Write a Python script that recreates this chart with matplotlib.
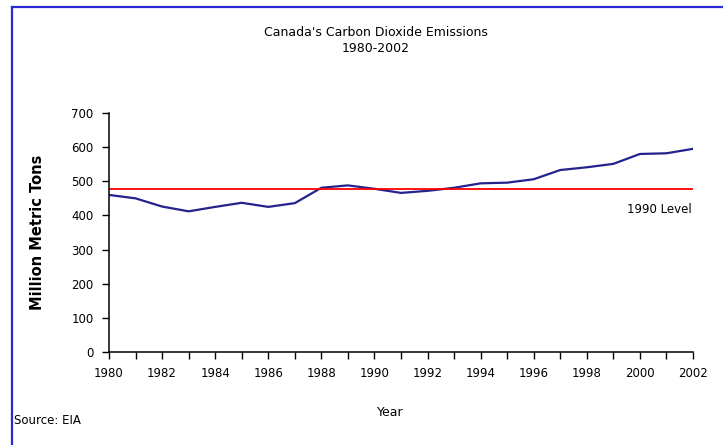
import matplotlib.pyplot as plt
from matplotlib.lines import Line2D

years = list(range(1980, 2003))
emissions = [460, 450, 426, 412, 425, 437, 425, 436, 481, 488, 478, 466,
             472, 481, 494, 496, 506, 533, 541, 551, 580, 582, 595]
level_1990 = 477
x_ticks = list(range(1980, 2003, 2))
y_ticks = list(range(0, 701, 100))

W, H = 723, 445
fig = plt.figure(figsize=(W / 100, H / 100), dpi=100)
fig.patch.set_facecolor('white')

ax = fig.add_axes([109 / W, 1 - 352 / H, (693 - 109) / W, (352 - 113) / H])
ax.plot(years, emissions, color='#23238e', lw=1.6, solid_capstyle='round')
ax.plot([1980, 2002.1], [level_1990, level_1990], color='#ff0000', lw=1.3)

ax.set_xlim(1980, 2002)
ax.set_ylim(0, 700)
ax.set_xticks(years, minor=False)
ax.set_xticklabels([str(y) if y in x_ticks else '' for y in years])
ax.set_yticks(y_ticks)
ax.tick_params(axis='both', direction='out', length=5, width=1, colors='black',
               labelsize=8.5, pad=6)
for s in ['top', 'right']:
    ax.spines[s].set_visible(False)
for s in ['left', 'bottom']:
    ax.spines[s].set_linewidth(1.1)
ax.spines['left'].set_bounds(0, 700)

ax.set_ylabel('Million Metric Tons', fontsize=10.5, fontweight='bold')
ax.yaxis.set_label_coords(-(109 - 45) / (693 - 109), 0.5)
ax.set_xlabel('Year', fontsize=9, va='center')
ax.xaxis.set_label_coords((390 - 109) / (693 - 109), -(412 - 352) / (352 - 113))

ax.text(2001.95, 416, '1990 Level', fontsize=8.5, ha='right', va='center')

fig.text(376 / W, 1 - 32.5 / H, "Canada's Carbon Dioxide Emissions", fontsize=9,
         ha='center', va='center')
fig.text(376 / W, 1 - 49 / H, '1980-2002', fontsize=9, ha='center', va='center')
fig.text(14 / W, 1 - 421 / H, 'Source: EIA', fontsize=8.5, ha='left', va='center')

# blue frame on the left and top edges
fig.add_artist(Line2D([11.5 / W, 11.5 / W], [0, 1 - 6.5 / H],
                      transform=fig.transFigure, color='#2a2ad6', lw=1.6))
fig.add_artist(Line2D([11.5 / W, 1], [1 - 6.5 / H, 1 - 6.5 / H],
                      transform=fig.transFigure, color='#2a2ad6', lw=1.6))

fig.savefig('out.png', dpi=100)
